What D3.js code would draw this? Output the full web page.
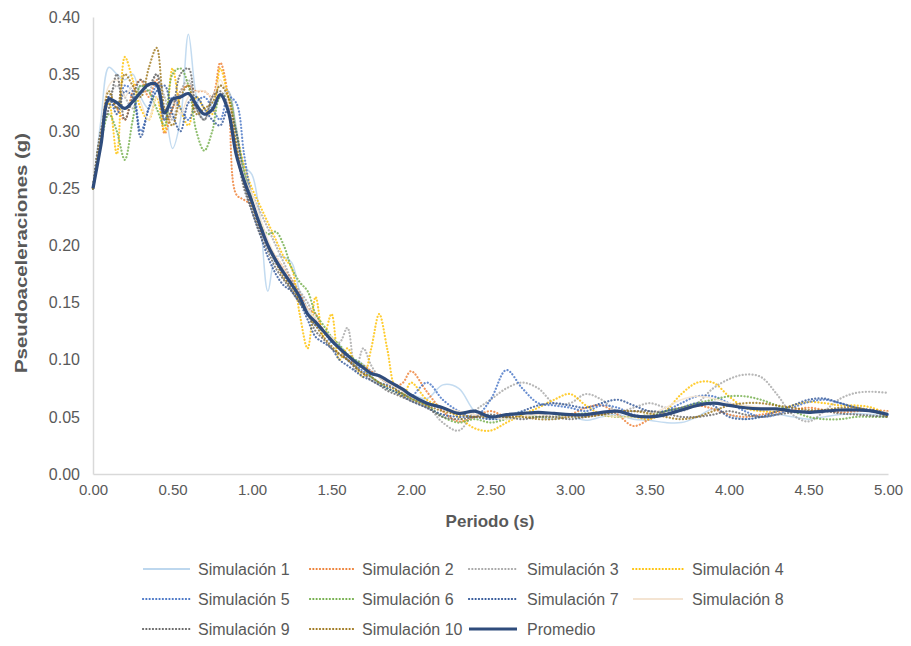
<!DOCTYPE html>
<html><head><meta charset="utf-8">
<script src="https://cdn.jsdelivr.net/npm/d3@7"></script>
<style>body{margin:0;background:#fff}svg{display:block}</style>
</head><body><svg id="c" width="911" height="646"></svg>
<script>
const periods = [0,0.05,0.1,0.15,0.2,0.25,0.3,0.35,0.4,0.45,0.5,0.55,0.6,0.65,0.7,0.75,0.8,0.85,0.9,0.95,
1.0,1.05,1.1,1.15,1.2,1.25,1.3,1.35,1.4,1.45,1.5,1.55,1.6,1.65,1.7,1.75,1.8,1.85,1.9,1.95,2.0,
2.1,2.2,2.3,2.4,2.5,2.6,2.7,2.8,2.9,3.0,3.1,3.2,3.3,3.4,3.5,3.6,3.7,3.8,3.9,4.0,4.1,4.2,4.3,4.4,4.5,4.6,4.7,4.8,4.9,5.0];

const sim1 = [0.25,0.31,0.356,0.35,0.345,0.35,0.33,0.32,0.335,0.32, 0.285,0.31,0.385,0.33,0.31,0.325,0.33,0.335,0.305,0.27,
0.262,0.225,0.16,0.19,0.19,0.185,0.16,0.145,0.13,0.125, 0.12,0.11,0.1,0.1,0.096,0.09,0.085,0.082,0.078,0.074, 0.07,
0.066,0.078,0.075,0.055,0.048,0.05,0.055,0.05,0.048,0.05, 0.047,0.05,0.052,0.048,0.047,0.045,0.045,0.05,0.057,0.052, 0.048,0.05,0.052,0.05,0.048,0.05,0.052,0.053,0.052,0.05];
const sim2 = [0.25,0.29,0.33,0.32,0.31,0.335,0.345,0.33,0.345,0.298, 0.32,0.335,0.34,0.335,0.335,0.33,0.36,0.33,0.245,0.24,
0.235,0.215,0.2,0.19,0.18,0.17,0.158,0.145,0.14,0.125, 0.118,0.11,0.1,0.098,0.095,0.09,0.085,0.08,0.077,0.08, 0.09,
0.072,0.055,0.046,0.05,0.055,0.05,0.05,0.05,0.05,0.052, 0.058,0.06,0.052,0.042,0.048,0.055,0.058,0.06,0.057,0.052, 0.05,0.052,0.054,0.056,0.058,0.056,0.054,0.055,0.056,0.055];
const sim3 = [0.25,0.3,0.33,0.34,0.33,0.32,0.34,0.335,0.35,0.33, 0.31,0.335,0.345,0.32,0.31,0.33,0.34,0.335,0.3,0.265,
0.245,0.23,0.215,0.2,0.185,0.17,0.16,0.15,0.135,0.125, 0.118,0.115,0.128,0.09,0.11,0.095,0.085,0.08,0.078,0.072, 0.068,
0.06,0.045,0.038,0.055,0.065,0.075,0.08,0.075,0.062,0.062, 0.07,0.065,0.055,0.058,0.062,0.058,0.055,0.062,0.075,0.083, 0.087,0.085,0.07,0.052,0.046,0.055,0.066,0.071,0.072,0.071];
const sim4 = [0.25,0.3,0.325,0.28,0.365,0.345,0.32,0.31,0.33,0.3, 0.355,0.32,0.305,0.33,0.32,0.315,0.355,0.33,0.3,0.27,
0.25,0.235,0.22,0.205,0.19,0.18,0.14,0.11,0.155,0.12, 0.14,0.1,0.11,0.095,0.085,0.11,0.14,0.11,0.075,0.068, 0.08,
0.065,0.058,0.05,0.04,0.038,0.045,0.052,0.058,0.065,0.07, 0.06,0.052,0.05,0.05,0.048,0.055,0.07,0.08,0.08,0.068, 0.058,0.055,0.055,0.06,0.063,0.062,0.06,0.06,0.058,0.052];
const sim5 = [0.25,0.29,0.33,0.32,0.34,0.335,0.3,0.32,0.34,0.31, 0.33,0.32,0.31,0.325,0.33,0.32,0.31,0.33,0.325,0.28,
0.24,0.215,0.2,0.185,0.175,0.16,0.15,0.14,0.13,0.125, 0.115,0.112,0.1,0.095,0.09,0.085,0.08,0.078,0.075,0.07, 0.068,
0.08,0.065,0.055,0.05,0.065,0.091,0.075,0.062,0.06,0.058, 0.055,0.06,0.058,0.052,0.05,0.055,0.062,0.068,0.068,0.062, 0.055,0.05,0.052,0.058,0.063,0.065,0.062,0.058,0.055,0.052];
const sim6 = [0.25,0.29,0.315,0.3,0.275,0.31,0.34,0.335,0.32,0.305, 0.35,0.355,0.34,0.3,0.283,0.3,0.33,0.33,0.3,0.265,
0.24,0.22,0.21,0.212,0.2,0.18,0.168,0.16,0.14,0.13, 0.12,0.113,0.105,0.1,0.095,0.085,0.08,0.075,0.072,0.07, 0.066,
0.06,0.05,0.045,0.048,0.045,0.048,0.05,0.05,0.05,0.052, 0.053,0.052,0.05,0.05,0.052,0.055,0.058,0.062,0.065,0.068, 0.068,0.065,0.06,0.055,0.05,0.048,0.048,0.05,0.05,0.05];
const sim7 = [0.25,0.3,0.33,0.315,0.335,0.33,0.295,0.32,0.335,0.34, 0.315,0.3,0.325,0.33,0.32,0.31,0.305,0.32,0.3,0.255,
0.23,0.21,0.19,0.175,0.165,0.16,0.15,0.135,0.12,0.115, 0.11,0.1,0.095,0.09,0.085,0.082,0.078,0.075,0.072,0.068, 0.064,
0.058,0.052,0.05,0.05,0.048,0.05,0.055,0.06,0.062,0.06, 0.058,0.062,0.065,0.06,0.055,0.055,0.058,0.062,0.06,0.05, 0.048,0.05,0.055,0.06,0.065,0.066,0.062,0.058,0.056,0.053];
const sim8 = [0.25,0.3,0.34,0.345,0.33,0.34,0.325,0.31,0.33,0.32, 0.325,0.315,0.33,0.335,0.335,0.33,0.345,0.325,0.29,0.26,
0.245,0.225,0.205,0.19,0.18,0.165,0.155,0.145,0.135,0.125, 0.12,0.11,0.105,0.098,0.092,0.088,0.085,0.08,0.076,0.072, 0.068,
0.062,0.058,0.055,0.052,0.05,0.048,0.05,0.052,0.05,0.05, 0.052,0.052,0.05,0.05,0.052,0.058,0.065,0.068,0.066,0.062, 0.06,0.058,0.056,0.055,0.054,0.055,0.056,0.056,0.055,0.054];
const sim9 = [0.25,0.3,0.32,0.35,0.31,0.33,0.345,0.34,0.35,0.31, 0.32,0.35,0.355,0.32,0.31,0.33,0.335,0.32,0.285,0.25,
0.23,0.21,0.195,0.18,0.17,0.16,0.15,0.14,0.125,0.118, 0.11,0.105,0.1,0.093,0.088,0.082,0.078,0.073,0.07,0.067, 0.064,
0.058,0.05,0.048,0.05,0.052,0.05,0.048,0.05,0.05,0.048, 0.05,0.052,0.054,0.055,0.055,0.053,0.05,0.05,0.052,0.055, 0.052,0.05,0.052,0.054,0.055,0.055,0.053,0.052,0.051,0.05];
const sim10 = [0.25,0.295,0.335,0.32,0.35,0.34,0.33,0.355,0.373,0.32, 0.305,0.33,0.34,0.315,0.32,0.325,0.34,0.33,0.29,0.255,
0.235,0.215,0.2,0.185,0.172,0.163,0.152,0.14,0.13,0.12, 0.112,0.105,0.1,0.094,0.088,0.085,0.08,0.077,0.074,0.07, 0.066,
0.06,0.055,0.052,0.05,0.05,0.05,0.05,0.048,0.048,0.05, 0.05,0.052,0.055,0.055,0.053,0.05,0.048,0.05,0.055,0.06, 0.062,0.062,0.06,0.058,0.056,0.056,0.058,0.058,0.055,0.05];
const promedio = [0.250,0.288,0.328,0.325,0.320,0.326,0.334,0.341,0.341,0.316, 0.328,0.330,0.333,0.323,0.315,0.319,0.332,0.318,0.280,0.257,
0.238,0.218,0.200,0.187,0.176,0.166,0.155,0.140,0.133,0.125, 0.117,0.110,0.104,0.098,0.093,0.088,0.086,0.082,0.078,0.074, 0.069,
0.062,0.058,0.053,0.055,0.050,0.052,0.053,0.054,0.053,0.052, 0.052,0.054,0.055,0.051,0.050,0.052,0.056,0.060,0.062,0.060, 0.058,0.057,0.057,0.055,0.054,0.055,0.056,0.056,0.055,0.052];

const seriesNames = ["Simulación 1","Simulación 2","Simulación 3","Simulación 4","Simulación 5","Simulación 6","Simulación 7","Simulación 8","Simulación 9","Simulación 10","Promedio"];
const seriesValues = [sim1,sim2,sim3,sim4,sim5,sim6,sim7,sim8,sim9,sim10,promedio];
const xTicks = [0,0.5,1,1.5,2,2.5,3,3.5,4,4.5,5];
const yTicks = [0,0.05,0.1,0.15,0.2,0.25,0.3,0.35,0.4];

const colors = ["#bdd7ee","#ed7d31","#a5a5a5","#ffc000","#4472c4","#70ad47","#2f5597","#f4e4d2","#636363","#9c7418","#2f4c7c"];
const dashed = [false,true,true,true,true,true,true,false,true,true,false];

const svg = d3.select("#c");
const x = d3.scaleLinear().domain([0,5]).range([93,888]);
const y = d3.scaleLinear().domain([0,0.4]).range([474,17]);
const txt = "#595959";
const font = "'Liberation Sans', Arial, sans-serif";

// axes
const xAxis = svg.append("g").attr("transform","translate(0,474)")
  .call(d3.axisBottom(x).tickValues(xTicks).tickFormat(d3.format(".2f")).tickSize(0).tickPadding(10));
xAxis.select(".domain").attr("stroke","#d9d9d9").attr("stroke-width",1.5);
xAxis.selectAll("text").attr("fill",txt).style("font-family",font).style("font-size","15px");
const yAxis = svg.append("g").attr("transform","translate(93,0)")
  .call(d3.axisLeft(y).tickValues(yTicks).tickFormat(d3.format(".2f")).tickSize(0).tickPadding(13));
yAxis.select(".domain").attr("stroke","#d9d9d9").attr("stroke-width",1.5);
yAxis.selectAll("text").attr("fill",txt).style("font-family",font).style("font-size","16px");

// lines
const line = d3.line().x((d,i)=>x(periods[i])).y(d=>y(d)).curve(d3.curveCatmullRom.alpha(0.5));
seriesValues.forEach((vals,k)=>{
  const p = svg.append("path").datum(vals).attr("d",line).attr("fill","none")
    .attr("stroke",colors[k]);
  if(k===10){ p.attr("stroke-width",3.2).attr("stroke-linejoin","round"); }
  else if(dashed[k]){ p.attr("stroke-width",2.2).attr("stroke-dasharray","0.1 3.2").attr("stroke-linecap","round").attr("opacity",0.8); }
  else { p.attr("stroke-width",1.5).attr("opacity",0.9); }
});

// titles
svg.append("text").attr("x",490).attr("y",527).attr("text-anchor","middle")
  .attr("fill",txt).style("font-family",font).style("font-size","17px").style("font-weight","bold").text("Periodo (s)");
svg.append("text").attr("transform","translate(27,253) rotate(-90)").attr("text-anchor","middle")
  .attr("fill",txt).style("font-family",font).style("font-size","17px").style("font-weight","bold")
  .attr("textLength",240).attr("lengthAdjust","spacingAndGlyphs").text("Pseudoaceleraciones (g)");

// legend
const colX = [[143,190,198],[310,356,362],[469,517,527],[633,683,692]];
const rowY = [569,599,629];
seriesNames.forEach((name,k)=>{
  const r = Math.floor(k/4), c = k%4;
  const [x1,x2,tx] = colX[c]; const yy = rowY[r];
  const l = svg.append("line").attr("x1",x1).attr("x2",x2).attr("y1",yy).attr("y2",yy).attr("stroke",colors[k]);
  if(k===10) l.attr("stroke-width",3.2);
  else if(dashed[k]) l.attr("stroke-width",2.2).attr("stroke-dasharray","0.1 3.2").attr("stroke-linecap","round");
  else l.attr("stroke-width",2);
  svg.append("text").attr("x",tx).attr("y",yy).attr("dy","0.35em").attr("fill",txt)
    .style("font-family",font).style("font-size","16px").text(name);
});
</script></body></html>
